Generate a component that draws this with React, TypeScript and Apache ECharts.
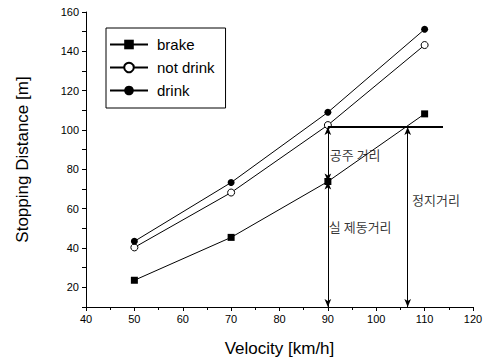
import React, { useEffect, useRef } from "react";
import * as echarts from "echarts";

const velocities = [50, 70, 90, 110];
const brake = [23.6, 45.4, 73.8, 108.2];
const notDrink = [40.3, 68.2, 102.5, 143.2];
const drink = [43.4, 73.3, 109.0, 151.2];

const reactionLine = [[90, 101.5], [113.8, 101.5]];
const arrowX1 = 90;
const arrowX2 = 106.5;
const topLevel = 101.5;
const brakeAt90 = 73.8;
const bottomLevel = 10;

const annotations = [
  { name: "공주 거리", value: [90.3, 87.5] },
  { name: "실 제동거리", value: [90.1, 51] },
  { name: "정지거리", value: [107.3, 64.8] },
];

const FONT = "Liberation Sans, Arial, sans-serif";

export default function App() {
  const ref = useRef<HTMLDivElement>(null);
  useEffect(() => {
    document.body.style.margin = "0";
    const chart = echarts.init(ref.current!, null, { renderer: "svg" });
    const mk = (a: number[], b: number[]) => [{ coord: a }, { coord: b }];
    chart.setOption({
      animation: false,
      backgroundColor: "#fff",
      textStyle: { fontFamily: FONT },
      grid: { left: 86, right: 22, top: 12, bottom: 56 },
      legend: {
        data: ["brake", "not drink", "drink"],
        orient: "vertical",
        left: 106,
        top: 28,
        itemWidth: 38,
        itemHeight: 12,
        itemGap: 8,
        borderColor: "#000",
        borderWidth: 1,
        borderRadius: 0,
        padding: [9, 11, 10, 3],
        textStyle: { fontFamily: FONT, fontSize: 15, color: "#000", padding: [0, 0, 0, 4] },
      },
      xAxis: {
        type: "value",
        min: 40,
        max: 120,
        interval: 10,
        name: "Velocity [km/h]",
        nameLocation: "middle",
        nameGap: 33,
        nameTextStyle: { fontFamily: FONT, fontSize: 17, color: "#000" },
        axisLine: { lineStyle: { color: "#000", width: 1 } },
        axisTick: { length: 4, lineStyle: { color: "#000" } },
        minorTick: { show: true, splitNumber: 2, length: 3, lineStyle: { color: "#000" } },
        axisLabel: { fontFamily: FONT, fontSize: 11, color: "#000", margin: 6 },
        splitLine: { show: false },
      },
      yAxis: {
        type: "value",
        min: 10,
        max: 160,
        interval: 10,
        name: "Stopping Distance [m]",
        nameLocation: "middle",
        nameGap: 55,
        nameTextStyle: { fontFamily: FONT, fontSize: 17, color: "#000" },
        axisLine: { show: true, lineStyle: { color: "#000", width: 1 } },
        axisTick: { show: true, length: 4, lineStyle: { color: "#000" } },
        axisLabel: {
          fontFamily: FONT,
          fontSize: 11,
          color: "#000",
          margin: 7,
          formatter: (v: number) => (v % 20 === 0 ? String(v) : ""),
        },
        splitLine: { show: false },
      },
      series: [
        {
          name: "brake",
          type: "line",
          data: velocities.map((v, i) => [v, brake[i]]),
          symbol: "rect",
          symbolSize: 7,
          lineStyle: { color: "#000", width: 1 },
          itemStyle: { color: "#000" },
          markLine: {
            silent: true,
            symbol: ["arrow", "arrow"],
            symbolSize: [5, 8],
            label: { show: false },
            lineStyle: { color: "#000", width: 1, type: "solid" },
            data: [
              mk([arrowX1, topLevel], [arrowX1, brakeAt90]),
              mk([arrowX1, brakeAt90], [arrowX1, bottomLevel]),
              mk([arrowX2, topLevel], [arrowX2, bottomLevel]),
            ],
          },
        },
        {
          name: "not drink",
          type: "line",
          data: velocities.map((v, i) => [v, notDrink[i]]),
          symbol: "circle",
          symbolSize: 7,
          lineStyle: { color: "#000", width: 1 },
          itemStyle: { color: "#fff", borderColor: "#000", borderWidth: 1 },
          markLine: {
            silent: true,
            symbol: ["none", "none"],
            label: { show: false },
            lineStyle: { color: "#000", width: 2, type: "solid" },
            data: [mk(reactionLine[0], reactionLine[1])],
          },
        },
        {
          name: "drink",
          type: "line",
          data: velocities.map((v, i) => [v, drink[i]]),
          symbol: "circle",
          symbolSize: 7,
          lineStyle: { color: "#000", width: 1 },
          itemStyle: { color: "#000" },
        },
        {
          name: "annotations",
          type: "scatter",
          symbolSize: 1,
          itemStyle: { color: "transparent" },
          silent: true,
          data: annotations,
          label: {
            show: true,
            position: "right",
            distance: 0,
            formatter: (p: any) => p.name,
            fontFamily: "Noto Sans CJK KR",
            fontSize: 13,
            color: "#000",
          },
        },
      ],
    });
    return () => chart.dispose();
  }, []);
  return <div ref={ref} style={{ width: 495, height: 363 }} />;
}
